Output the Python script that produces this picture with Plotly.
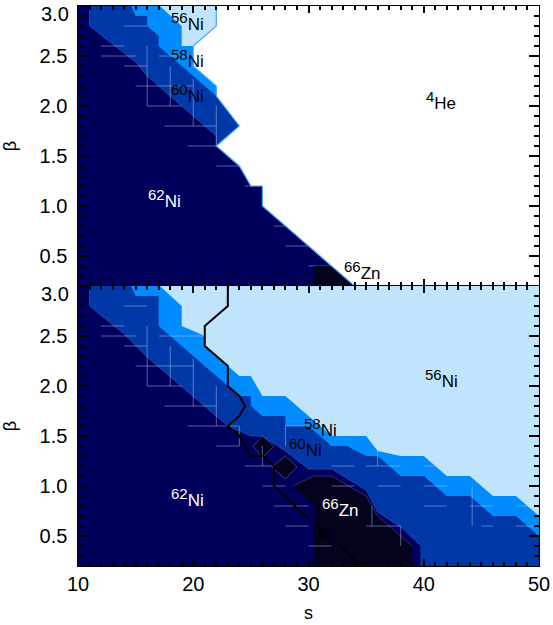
import plotly.graph_objects as go
from plotly.subplots import make_subplots

# ---------------- colours ----------------
NAVY = "#00005c"      # 62Ni
MED = "#0038a8"       # 60Ni
BRIGHT = "#008cff"    # 58Ni
LIGHT = "#c0e4fc"     # 56Ni
ZN = "#03031e"        # 66Zn
HE = "#ffffff"        # 4He
CROSS = "rgba(200,205,240,0.45)"
TICK = "black"

# ---------------- top panel region outlines (s, beta) ----------------
top_ni60_s = [11, 11, 14, 15, 16, 22, 22, 24, 24]
top_ni60_b = [3.0, 2.8, 2.53, 2.44, 2.3, 1.7, 1.6, 1.8, 3.0]
top_ni58_s = [14.6, 15, 16, 16, 17, 17, 19, 22, 22]
top_ni58_b = [3.0, 2.9, 2.9, 2.8, 2.7, 2.6, 2.4, 2.1, 3.0]
top_ni56_s = [17.1, 19, 19, 20, 22, 22]
top_ni56_b = [3.0, 2.8, 2.6, 2.6, 2.8, 3.0]
top_he_s = [22, 22, 20, 20, 22, 22, 24, 22, 24, 25, 26, 26, 34, 50, 50]
top_he_b = [3.0, 2.8, 2.6, 2.4, 2.2, 2.1, 1.8, 1.6, 1.4, 1.2, 1.2, 1.0, 0.2, 0.2, 3.0]
top_zn_s = [30.45, 30.45, 32, 34]
top_zn_b = [0.2, 0.4, 0.4, 0.2]

# ---------------- bottom panel region outlines ----------------
bot_ni60_s = [11, 11, 14, 15, 16, 23, 25, 26, 28, 30, 32, 35, 36, 38, 39.7, 39.7, 50, 50]
bot_ni60_b = [3.0, 2.8, 2.52, 2.41, 2.29, 1.6, 1.5, 1.5, 1.35, 1.17, 1.17, 0.96, 0.74, 0.59, 0.41, 0.2, 0.2, 3.0]
bot_ni58_s = [14.6, 15, 17, 17, 19, 24, 25, 25, 26, 28, 28, 30, 32, 33.3, 35, 36, 38, 40, 42, 44, 46, 48, 50, 50]
bot_ni58_b = [3.0, 2.9, 2.9, 2.6, 2.4, 1.9, 1.9, 1.8, 1.7, 1.7, 1.6, 1.6, 1.4, 1.4, 1.3, 1.3, 1.1, 1.1, 0.9, 0.9, 0.7, 0.7, 0.5, 3.0]
bot_ni56_s = [17.1, 19, 19, 21, 21, 24, 25, 26, 28, 30, 32, 35, 36, 38, 40, 42, 44, 46, 48, 50, 50]
bot_ni56_b = [3.0, 2.8, 2.6, 2.5, 2.4, 2.1, 2.1, 1.9, 1.9, 1.7, 1.5, 1.5, 1.35, 1.3, 1.3, 1.1, 1.1, 0.9, 0.9, 0.7, 3.0]
bot_zn_s = [28.6, 30.45, 32, 35, 36, 38, 39, 39, 30.45, 30.45, 28.6]
bot_zn_b = [1.0, 1.1, 1.1, 0.9, 0.7, 0.5, 0.4, 0.2, 0.2, 0.8, 1.0]
zn_island1_s = [25.2, 26, 27, 26, 25.2]
zn_island1_b = [1.4, 1.5, 1.4, 1.28, 1.4]
zn_island2_s = [26.8, 28, 29, 28, 26.8]
zn_island2_b = [1.19, 1.3, 1.19, 1.07, 1.19]

# He contour line (bottom panel), None = gap for its label
he_line_s = [23, 23, 21, 21, 23, 23, 24, 24.5, 24, 23, 24, 25, 26, 27, 27, 30.0, None, 32.6, 34.5]
he_line_b = [3.0, 2.8, 2.6, 2.4, 2.2, 2.0, 1.9, 1.8, 1.7, 1.6, 1.5, 1.3, 1.3, 1.2, 1.0, 0.67, None, 0.42, 0.2]

# faint error-bar crosses: horizontal bars (beta, s_lo, s_hi) and vertical bars (s, beta_lo, beta_hi)
bar_h_beta = [2.8, 2.6, 2.5, 2.4, 2.5, 2.2, 2.0, 1.8, 1.6, 1.4, 1.2, 1.0, 0.8, 0.6, 0.4,
              1.6, 1.2, 1.0, 1.2, 1.0, 0.6, 1.2, 1.0, 0.8, 0.8, 0.6, 0.8, 0.6]
bar_h_slo = [14, 12, 12, 14, 17, 15, 16, 17.5, 19.5, 22, 24.5, 26, 27, 28, 30,
             28, 32, 32, 35, 36, 35, 40, 40, 40, 44, 45, 48, 48]
bar_h_shi = [16, 14, 15, 16, 21, 20, 19, 22, 24, 24, 27, 28, 30, 30, 32,
             30, 34, 34, 38, 38, 38, 42, 42, 42, 46, 46, 50, 50]
bar_v_s = [16, 18, 20, 22, 24, 26, 28, 36, 38, 44.2, 35.5]
bar_v_blo = [2.0, 2.0, 1.8, 1.6, 1.4, 1.2, 1.4, 1.2, 0.4, 0.6, 0.6]
bar_v_bhi = [2.6, 2.4, 2.27, 2.0, 1.6, 1.4, 1.6, 1.4, 0.6, 1.0, 0.8]

# ---------------- labels ----------------
top_labels = [("56", "Ni", 19.5, 2.85, "black"), ("58", "Ni", 19.5, 2.48, "black"),
              ("60", "Ni", 19.5, 2.13, "black"), ("62", "Ni", 17.5, 1.08, "white"),
              ("4", "He", 41.5, 2.06, "black"), ("66", "Zn", 34.7, 0.36, "black")]
bot_labels = [("62", "Ni", 19.5, 0.89, "white"), ("56", "Ni", 41.5, 2.08, "black"),
              ("58", "Ni", 31.0, 1.59, "black"), ("60", "Ni", 29.7, 1.39, "black"),
              ("66", "Zn", 32.8, 0.79, "white")]

x_ticks = [10, 20, 30, 40, 50]
y_ticks = [0.5, 1.0, 1.5, 2.0, 2.5, 3.0]
y_ticktext = ["0.5\u00a0", "1.0\u00a0", "1.5\u00a0", "2.0\u00a0", "2.5\u00a0", ""]

FONT = "Liberation Sans"

fig = make_subplots(rows=2, cols=1, shared_xaxes=True, vertical_spacing=0)


def poly(s, b, color, row):
    fig.add_trace(go.Scatter(x=s, y=b, mode="lines", fill="toself", fillcolor=color,
                             line=dict(width=0, color=color), hoverinfo="skip",
                             showlegend=False), row=row, col=1)


def line(s, b, color, width, row):
    fig.add_trace(go.Scatter(x=s, y=b, mode="lines", line=dict(width=width, color=color),
                             hoverinfo="skip", showlegend=False, connectgaps=False),
                  row=row, col=1)


def crosses(row):
    xs, ys = [], []
    for b, s1, s2 in zip(bar_h_beta, bar_h_slo, bar_h_shi):
        xs += [s1, s2, None]
        ys += [b, b, None]
    for s, b1, b2 in zip(bar_v_s, bar_v_blo, bar_v_bhi):
        xs += [s, s, None]
        ys += [b1, b2, None]
    line(xs, ys, CROSS, 1, row)


# top panel
poly(top_ni60_s, top_ni60_b, MED, 1)
poly(top_ni58_s, top_ni58_b, BRIGHT, 1)
poly(top_ni56_s, top_ni56_b, LIGHT, 1)
line(top_ni60_s[:7], top_ni60_b[:7], "#3a4aa8", 0.8, 1)
crosses(1)
poly(top_he_s, top_he_b, HE, 1)
poly(top_zn_s, top_zn_b, ZN, 1)
line(top_he_s[:-2], top_he_b[:-2], "#4aa8ff", 1.2, 1)

# bottom panel
poly(bot_ni60_s, bot_ni60_b, MED, 2)
poly(bot_ni58_s, bot_ni58_b, BRIGHT, 2)
poly(bot_ni56_s, bot_ni56_b, LIGHT, 2)
poly(bot_zn_s, bot_zn_b, ZN, 2)
poly(zn_island1_s, zn_island1_b, ZN, 2)
poly(zn_island2_s, zn_island2_b, ZN, 2)
line(bot_zn_s[:7], bot_zn_b[:7], "#3a3a88", 0.8, 2)
line(zn_island1_s, zn_island1_b, "#4a4a90", 0.8, 2)
line(zn_island2_s, zn_island2_b, "#4a4a90", 0.8, 2)
line(bot_ni60_s[:15], bot_ni60_b[:15], "#3a4aa8", 0.8, 2)
crosses(2)
line(he_line_s, he_line_b, "black", 2, 2)

annotations = []
for refs, labels in ((("x", "y"), top_labels), (("x2", "y2"), bot_labels)):
    for sup, el, s, b, col in labels:
        annotations.append(dict(
            x=s, y=b, xref=refs[0], yref=refs[1], showarrow=False,
            text=f"<sup><span style='font-size:15px'>{sup}</span></sup>{el}",
            font=dict(family=FONT, size=17, color=col),
            xanchor="center", yanchor="middle"))

annotations.append(dict(x=31.3, y=0.55, xref="x2", yref="y2", showarrow=False, text="He",
                        textangle=40, font=dict(family=FONT, size=15, color="black")))
for yr in ("y", "y2"):
    annotations.append(dict(x=0, y=3.0, xref="paper", yref=yr, showarrow=False, text="3.0",
                            xanchor="right", yanchor="middle", xshift=-7, yshift=-8,
                            font=dict(family=FONT, size=20, color="black")))

fig.update_layout(width=553, height=625, margin=dict(l=78, r=14, t=6, b=59, autoexpand=False),
                  plot_bgcolor=NAVY, paper_bgcolor="white", showlegend=False,
                  font=dict(family=FONT, size=20, color="black"),
                  annotations=annotations)

for ax in ("xaxis", "xaxis2"):
    fig.layout[ax].update(
        range=[10, 50], tickmode="array", tickvals=x_ticks, ticks="inside", ticklen=7,
        tickwidth=1.5, tickcolor=TICK, showline=True, linecolor="black", linewidth=1.2,
        mirror="allticks", showgrid=False, zeroline=False, automargin=False,
        minor=dict(ticks="inside", ticklen=4, dtick=1, tick0=0,
                   tickcolor=TICK, showgrid=False))
fig.layout.xaxis.update(showticklabels=False)
fig.layout.xaxis2.update(showticklabels=True,
                         title=dict(text="s", font=dict(family=FONT, size=18), standoff=12))
for ax in ("yaxis", "yaxis2"):
    fig.layout[ax].update(
        range=[0.2, 3.0], tickmode="array", tickvals=y_ticks, ticktext=y_ticktext,
        ticks="inside", ticklen=10, tickwidth=1.5, tickcolor=TICK,
        showline=True, linecolor="black", linewidth=1.2, mirror="allticks",
        showgrid=False, zeroline=False, automargin=False,
        minor=dict(ticks="inside", ticklen=5, dtick=0.1, tick0=0,
                   tickcolor=TICK, showgrid=False),
        title=dict(text="β", font=dict(family=FONT, size=18), standoff=22))

fig.write_html("out.html", post_script="document.body.style.margin='0px';",
               config={"displayModeBar": False})
